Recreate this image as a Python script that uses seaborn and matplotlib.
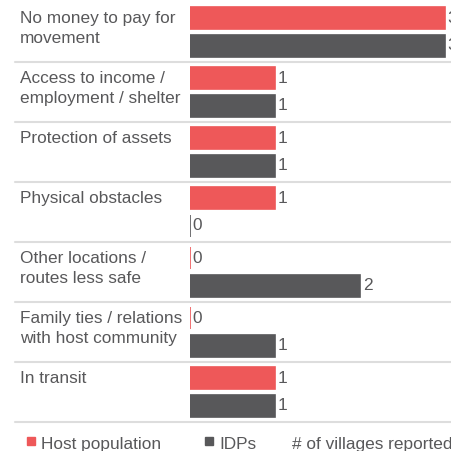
import matplotlib
matplotlib.use("Agg")
import matplotlib.pyplot as plt
import seaborn as sns
import pandas as pd
from matplotlib.patches import Rectangle

categories = [
    "No money to pay for\nmovement",
    "Access to income /\nemployment / shelter",
    "Protection of assets",
    "Physical obstacles",
    "Other locations /\nroutes less safe",
    "Family ties / relations\nwith host community",
    "In transit",
]
host_values = [3, 1, 1, 1, 0, 0, 1]
idp_values = [3, 1, 1, 0, 2, 1, 1]
series_names = ["Host population", "IDPs"]
legend_note = "# of villages reported"

RED = "#EE5859"
GREY = "#58585A"
TEXT = "#58585A"
SEP = "#DDDDDD"
FS = 12.4

rows = []
for c, h, d in zip(categories, host_values, idp_values):
    rows.append({"category": c, "group": series_names[0], "value": h})
    rows.append({"category": c, "group": series_names[1], "value": d})
df = pd.DataFrame(rows)

sns.set_theme(style="white")
plt.rcParams["font.family"] = ["Liberation Sans", "DejaVu Sans"]

W, H = 452, 451
fig = plt.figure(figsize=(W / 100, H / 100), dpi=100)
ax_left, ax_right, ax_top, ax_bottom = 190, 452, 2, 422
ax = fig.add_axes([ax_left / W, (H - ax_bottom) / H,
                   (ax_right - ax_left) / W, (ax_bottom - ax_top) / H])

sns.barplot(data=df, y="category", x="value", hue="group", orient="h",
            palette=[RED, GREY], width=0.93, gap=0.2, ax=ax, legend=False,
            linewidth=1.2, saturation=1)
for cont, col in zip(ax.containers, [RED, GREY]):
    for p in cont:
        p.set_edgecolor(col)
    ax.bar_label(cont, padding=2, color=TEXT, fontsize=FS)

ax.set_xlim(0, (ax_right - ax_left) / 85)
ax.set_ylim(len(categories) - 0.5, -0.5)
ax.set_axis_off()

axw = ax_right - ax_left
for i, c in enumerate(categories):
    ax.text((20 - ax_left) / axw, i - 0.5 + 0.15, c,
            transform=ax.get_yaxis_transform(), ha="left", va="top",
            fontsize=FS, color=TEXT, linespacing=1.4)
    ax.axhline(i + 0.5, xmin=(15 - ax_left) / axw, xmax=1, clip_on=False,
               color=SEP, lw=1.5)

# legend
def fx(x):
    return x / W

def fy(y):
    return (H - y) / H

for x0, col in [(27, RED), (205, GREY)]:
    fig.patches.append(Rectangle((fx(x0), fy(445)), 8 / W, 8 / H,
                                 transform=fig.transFigure, color=col))
fig.text(fx(41), fy(449), series_names[0], fontsize=FS, color=TEXT, va="baseline")
fig.text(fx(219), fy(449), series_names[1], fontsize=FS, color=TEXT, va="baseline")
fig.text(fx(292), fy(449), legend_note, fontsize=FS, color=TEXT, va="baseline")

fig.savefig("out.png", dpi=100)
